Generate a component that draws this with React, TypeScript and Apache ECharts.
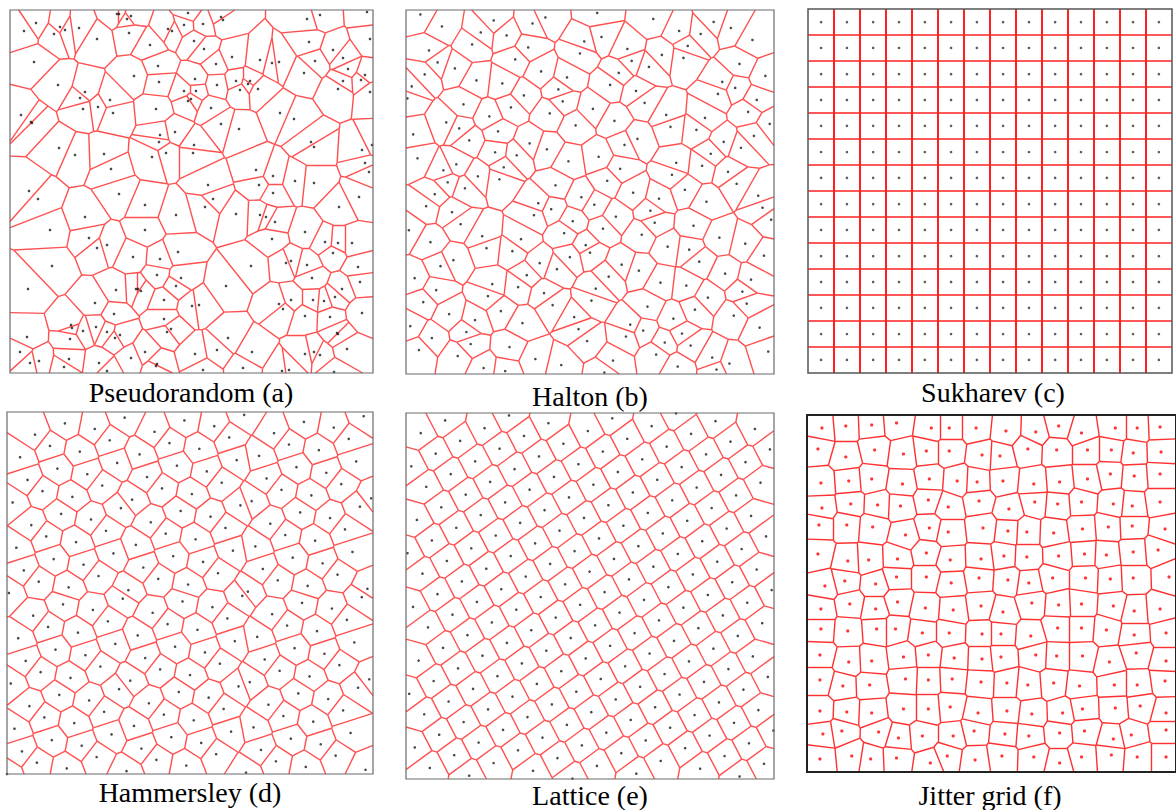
import React, { useEffect, useRef } from "react";
import * as echarts from "echarts";

type Pt = [number, number];

const PANEL_TITLES = [
  "Pseudorandom (a)",
  "Halton (b)",
  "Sukharev (c)",
  "Hammersley (d)",
  "Lattice (e)",
  "Jitter grid (f)",
];

// (a) pseudorandom samples (panel units 0..363, y downward)
const PSEUDORANDOM_POINTS: Pt[] = [
  [26,13],[14,21],[44,24],[50,17],[55,20],[69,18],[87,29],[107,4],[109,4],[117,9],[121,6],[119,23],[140,35],[158,19],[162,21],[178,3],[174,15],[184,31],
  [24,52],[48,75],[75,82],[70,88],[73,99],[88,97],[100,90],[103,103],[124,66],[148,56],[149,72],[174,81],[185,69],[186,81],[181,89],[178,91],[146,99],
  [11,105],[21,112],[22,113],[49,138],[65,145],[94,144],[101,159],[142,147],[150,125],[149,132],[156,143],[165,122],[184,135],[183,143],[19,181],[28,189],[109,184],
  [193,14],[211,7],[213,10],[194,39],[222,47],[206,54],[207,75],[226,71],[230,80],[238,74],[240,71],[248,79],[250,50],[262,53],[269,52],[201,98],[211,114],[229,119],
  [270,103],[284,109],[297,9],[310,5],[357,2],[299,32],[323,40],[305,51],[294,63],[333,48],[338,59],[333,71],[328,79],[355,65],[351,70],[360,82],[360,29],
  [301,132],[304,137],[352,140],[362,135],[355,153],[359,162],[246,160],[263,166],[285,171],[304,173],[249,175],[198,175],[263,183],[349,187],[203,189],
  [135,195],[166,205],[75,207],[40,220],[135,220],[79,228],[97,235],[87,238],[168,242],[123,247],[150,249],[42,256],[171,268],[166,276],[147,265],[18,279],
  [106,280],[126,279],[128,279],[131,281],[154,290],[182,296],[189,295],[85,293],[104,304],[154,309],[61,315],[62,318],[86,317],[73,321],[97,322],[110,325],
  [105,328],[60,329],[157,322],[161,319],[17,327],[135,342],[185,344],[121,348],[10,342],[20,353],[29,351],[59,349],[54,357],[89,353],[97,361],[147,354],[146,356],
  [195,197],[226,204],[250,205],[256,207],[265,212],[295,222],[329,197],[262,229],[315,232],[328,233],[342,233],[323,243],[276,253],[281,251],[297,255],[241,256],
  [348,257],[302,268],[350,272],[216,276],[332,279],[325,287],[281,290],[303,290],[314,291],[269,294],[273,299],[295,306],[320,307],[352,303],[218,328],[327,323],
  [328,324],[337,339],[207,340],[242,342],[295,344],[304,342],[310,345],[193,360],[233,358],[272,361],[279,360],[324,362],
];

// (b) Halton sequence, i = 1..196: base-2 radical inverse (units of 1/256) and base-3 (units of 1/243)
const HALTON_BASE2 = [
  128,64,192,32,160,96,224,16,144,80,208,48,176,112,240,8,136,72,200,40,168,104,232,24,152,88,216,56,184,120,248,
  4,
  132,68,196,36,164,100,228,20,148,84,212,52,180,116,244,12,140,76,204,44,172,108,236,28,156,92,220,60,188,124,252,
  2,
  130,66,194,34,162,98,226,18,146,82,210,50,178,114,242,10,138,74,202,42,170,106,234,26,154,90,218,58,186,122,250,
  6,
  134,70,198,38,166,102,230,22,150,86,214,54,182,118,246,14,142,78,206,46,174,110,238,30,158,94,222,62,190,126,254,
  1,
  129,65,193,33,161,97,225,17,145,81,209,49,177,113,241,9,137,73,201,41,169,105,233,25,153,89,217,57,185,121,249,
  5,
  133,69,197,37,165,101,229,21,149,85,213,53,181,117,245,13,141,77,205,45,173,109,237,29,157,93,221,61,189,125,253,
  3,
  131,67,195,35,
];
const HALTON_BASE3 = [
  81,162,27,108,189,54,135,216,9,90,171,36,117,198,63,144,225,18,99,180,45,126,207,72,153,234,
  3,
  84,165,30,111,192,57,138,219,12,93,174,39,120,201,66,147,228,21,102,183,48,129,210,75,156,237,
  6,
  87,168,33,114,195,60,141,222,15,96,177,42,123,204,69,150,231,24,105,186,51,132,213,78,159,240,
  1,
  82,163,28,109,190,55,136,217,10,91,172,37,118,199,64,145,226,19,100,181,46,127,208,73,154,235,
  4,
  85,166,31,112,193,58,139,220,13,94,175,40,121,202,67,148,229,22,103,184,49,130,211,76,157,238,
  7,
  88,169,34,115,196,61,142,223,16,97,178,43,124,205,70,151,232,25,106,187,52,133,214,79,160,241,
  2,
  83,164,29,110,191,56,137,218,11,92,173,38,119,200,65,146,227,20,101,182,47,128,209,74,155,236,
  5,
  86,167,32,113,194,59,140,
];

// (c) Sukharev grid: cell-centre levels of a 14 x 14 grid
const SUKHAREV_LEVELS = [0.036, 0.107, 0.179, 0.25, 0.321, 0.393, 0.464, 0.536, 0.607, 0.679, 0.75, 0.821, 0.893, 0.964];

// (d) Hammersley: N points, x = index / N, y = base-2 radical inverse of the index
const HAMMERSLEY_COUNT = 196;

// (e) lattice (panel units 368 x 366, y downward)
const LATTICE_ORIGIN: Pt = [5.3, 53.3];
const LATTICE_U: Pt = [15.0, 20.49];
const LATTICE_V: Pt = [24.42, -12.71];

// (f) jitter grid samples (panel units 371 x 357, y downward)
const JITTER_POINTS: Pt[] = [
  [15,13],[39,11],[65,10],[90,8],[125,13],[143,13],[170,13],[200,16],[230,17],[253,11],[276,18],[310,13],[332,13],[355,12],
  [11,34],[39,42],[68,35],[97,39],[120,36],[143,36],[176,40],[194,41],[222,34],[251,35],[282,35],[306,35],[328,38],[356,37],
  [14,68],[42,66],[65,64],[96,69],[123,64],[151,66],[171,67],[197,66],[228,69],[254,67],[282,64],[305,59],[329,61],[355,59],
  [15,93],[44,89],[71,90],[94,91],[122,85],[142,92],[173,86],[203,94],[229,87],[252,89],[276,87],[308,89],[327,91],[355,87],
  [12,110],[40,110],[66,112],[99,120],[123,113],[142,117],[177,113],[202,116],[221,117],[248,118],[277,114],[303,112],[327,111],[360,114],
  [11,139],[41,146],[62,145],[91,144],[120,138],[144,145],[175,144],[198,141],[221,142],[253,141],[279,139],[301,140],[328,137],[353,135],
  [18,171],[38,166],[69,169],[90,162],[120,162],[145,168],[173,163],[202,165],[223,168],[247,163],[280,163],[305,164],[328,163],[364,162],
  [14,194],[43,189],[69,194],[91,187],[119,193],[147,195],[175,191],[197,197],[226,188],[253,190],[276,189],[308,191],[329,196],[355,194],
  [14,214],[41,216],[70,214],[89,214],[116,218],[143,218],[176,219],[195,219],[225,221],[252,213],[276,213],[301,215],[329,220],[361,218],
  [13,240],[42,247],[65,246],[97,242],[122,240],[148,243],[176,244],[195,242],[230,240],[251,241],[277,241],[304,247],[331,238],[361,246],
  [13,265],[36,271],[63,270],[99,264],[122,265],[146,264],[175,267],[201,268],[222,270],[248,268],[274,271],[309,270],[332,270],[360,266],
  [13,296],[40,297],[65,298],[97,294],[122,294],[144,292],[172,298],[201,296],[226,299],[257,298],[277,294],[310,293],[335,291],[361,298],
  [16,319],[35,316],[72,317],[92,323],[116,321],[147,321],[168,316],[199,319],[223,321],[254,318],[279,316],[308,324],[326,320],[361,315],
  [13,344],[45,341],[64,344],[90,343],[124,348],[141,341],[169,345],[196,341],[228,342],[254,348],[276,342],[306,340],[332,342],[361,342],
];

function clipHalf(poly: Pt[], p: Pt, q: Pt): Pt[] {
  const nx = q[0] - p[0];
  const ny = q[1] - p[1];
  const c = (nx * (p[0] + q[0]) + ny * (p[1] + q[1])) / 2;
  const out: Pt[] = [];
  for (let i = 0; i < poly.length; i++) {
    const a = poly[i];
    const b = poly[(i + 1) % poly.length];
    const da = nx * a[0] + ny * a[1] - c;
    const db = nx * b[0] + ny * b[1] - c;
    if (da <= 0) out.push(a);
    if ((da < 0 && db > 0) || (da > 0 && db < 0)) {
      const t = da / (da - db);
      out.push([a[0] + t * (b[0] - a[0]), a[1] + t * (b[1] - a[1])]);
    }
  }
  return out;
}

// Voronoi edges (inside the box, deduplicated) computed from the sites
function voronoiEdges(sites: Pt[], w: number, h: number): [Pt, Pt][] {
  const seen = new Set<string>();
  const edges: [Pt, Pt][] = [];
  const eps = 1e-7 * Math.max(w, h);
  const onSide = (a: Pt, b: Pt) =>
    (Math.abs(a[0]) < eps && Math.abs(b[0]) < eps) ||
    (Math.abs(a[0] - w) < eps && Math.abs(b[0] - w) < eps) ||
    (Math.abs(a[1]) < eps && Math.abs(b[1]) < eps) ||
    (Math.abs(a[1] - h) < eps && Math.abs(b[1] - h) < eps);
  const key = (p: Pt) => `${Math.round((p[0] / w) * 1e5)},${Math.round((p[1] / h) * 1e5)}`;
  sites.forEach((p, i) => {
    let poly: Pt[] = [[0, 0], [w, 0], [w, h], [0, h]];
    for (let j = 0; j < sites.length && poly.length > 2; j++) {
      if (j === i) continue;
      const q = sites[j];
      if (q[0] === p[0] && q[1] === p[1]) continue;
      poly = clipHalf(poly, p, q);
    }
    for (let k = 0; k < poly.length; k++) {
      const a = poly[k];
      const b = poly[(k + 1) % poly.length];
      if (onSide(a, b)) continue;
      const ka = key(a);
      const kb = key(b);
      if (ka === kb) continue;
      const kk = ka < kb ? ka + "|" + kb : kb + "|" + ka;
      if (seen.has(kk)) continue;
      seen.add(kk);
      edges.push([a, b]);
    }
  });
  return edges;
}

function buildSites() {
  const halton: Pt[] = HALTON_BASE2.map((v, k) => [v / 256, HALTON_BASE3[k] / 243]);
  const sukharev: Pt[] = [];
  SUKHAREV_LEVELS.forEach((x) => SUKHAREV_LEVELS.forEach((y) => sukharev.push([x, y])));
  const hammersley: Pt[] = [];
  for (let k = 0; k < HAMMERSLEY_COUNT; k++) {
    hammersley.push([k / HAMMERSLEY_COUNT, k === 0 ? 0 : HALTON_BASE2[k - 1] / 256]);
  }
  const lattice: Pt[] = [];
  for (let a = -40; a <= 40; a++) {
    for (let b = -40; b <= 40; b++) {
      const x = LATTICE_ORIGIN[0] + a * LATTICE_U[0] + b * LATTICE_V[0];
      const y = LATTICE_ORIGIN[1] + a * LATTICE_U[1] + b * LATTICE_V[1];
      if (x >= 0 && x <= 368 && y >= 0 && y <= 366) lattice.push([x, y]);
    }
  }
  return { halton, sukharev, hammersley, lattice };
}

export default function App() {
  const ref = useRef<HTMLDivElement>(null);

  useEffect(() => {
    if (!ref.current) return;
    const chart = echarts.init(ref.current, undefined, { renderer: "svg" });
    const s = buildSites();

    const panels = [
      { sites: PSEUDORANDOM_POINTS, w: 363, h: 363, inv: true, box: [10, 10, 363, 363], dot: "#1a1a1a", dotSize: 2.6, edge: "#ff5050", edgeW: 1.4, vEdgeW: 1.4, frame: "#6b6b6b", frameW: 1.2 },
      { sites: s.halton, w: 1, h: 1, inv: false, box: [406, 10, 368, 364], dot: "#1a1a1a", dotSize: 2.6, edge: "#ff5050", edgeW: 1.4, vEdgeW: 1.4, frame: "#6b6b6b", frameW: 1.2 },
      { sites: s.sukharev, w: 1, h: 1, inv: false, box: [808, 9, 364, 364], dot: "#333", dotSize: 2.6, edge: "#ff2020", edgeW: 1.6, vEdgeW: 2, frame: "#555", frameW: 1.5 },
      { sites: s.hammersley, w: 1, h: 1, inv: false, box: [7, 412, 366, 362], dot: "#1a1a1a", dotSize: 2.6, edge: "#ff5050", edgeW: 1.4, vEdgeW: 1.4, frame: "#6b6b6b", frameW: 1.2 },
      { sites: s.lattice, w: 368, h: 366, inv: true, box: [406, 413, 368, 366], dot: "#1a1a1a", dotSize: 2.6, edge: "#ff5050", edgeW: 1.4, vEdgeW: 1.4, frame: "#6b6b6b", frameW: 1.2 },
      { sites: JITTER_POINTS, w: 371, h: 357, inv: true, box: [807, 415, 371, 357], dot: "#ff0000", dotSize: 3.2, edge: "#ff3030", edgeW: 1.4, vEdgeW: 1.4, frame: "#222", frameW: 2 },
    ];

    const titlePos: Pt[] = [[191, 392], [590, 396], [993, 392], [190, 792], [590, 795], [990, 795]];

    const grid: any[] = [];
    const xAxis: any[] = [];
    const yAxis: any[] = [];
    const series: any[] = [];

    panels.forEach((p, i) => {
      const edges = voronoiEdges(p.sites as Pt[], p.w, p.h);
      grid.push({ left: p.box[0], top: p.box[1], width: p.box[2], height: p.box[3], show: false });
      xAxis.push({ type: "value", gridIndex: i, min: 0, max: p.w, show: false });
      yAxis.push({ type: "value", gridIndex: i, min: 0, max: p.h, show: false, inverse: p.inv });
      series.push({
        type: "lines",
        coordinateSystem: "cartesian2d",
        xAxisIndex: i,
        yAxisIndex: i,
        z: 2,
        silent: true,
        large: false,
        lineStyle: { color: p.edge, width: p.edgeW, opacity: 1, type: "solid" },
        data: edges.map((e) => {
          const vertical = Math.abs(e[0][0] - e[1][0]) < 1e-9 * p.w;
          return vertical && p.vEdgeW !== p.edgeW
            ? { coords: e, lineStyle: { width: p.vEdgeW } }
            : { coords: e };
        }),
      });
      series.push({
        type: "scatter",
        xAxisIndex: i,
        yAxisIndex: i,
        z: 3,
        silent: true,
        symbol: "circle",
        symbolSize: p.dotSize,
        itemStyle: { color: p.dot },
        data: p.sites,
      });
      series.push({
        type: "custom",
        xAxisIndex: i,
        yAxisIndex: i,
        z: 4,
        silent: true,
        data: [[0, 0]],
        renderItem: (_params: any, api: any) => {
          const a = api.coord([0, 0]);
          const b = api.coord([p.w, p.h]);
          return {
            type: "rect",
            shape: {
              x: Math.min(a[0], b[0]),
              y: Math.min(a[1], b[1]),
              width: Math.abs(b[0] - a[0]),
              height: Math.abs(b[1] - a[1]),
            },
            style: { fill: "none", stroke: p.frame, lineWidth: p.frameW },
          };
        },
      });
    });

    chart.setOption({
      animation: false,
      backgroundColor: "#ffffff",
      grid,
      xAxis,
      yAxis,
      series,
      graphic: PANEL_TITLES.map((t, i) => ({
        type: "text",
        x: titlePos[i][0],
        y: titlePos[i][1],
        style: {
          text: t,
          fill: "#000",
          font: '28px "Liberation Serif", "Times New Roman", serif',
          textAlign: "center",
          textVerticalAlign: "middle",
        },
      })),
    });

    return () => chart.dispose();
  }, []);

  return (
    <div
      ref={ref}
      style={{ position: "fixed", left: 0, top: 0, width: 1176, height: 810, background: "#fff" }}
    />
  );
}
